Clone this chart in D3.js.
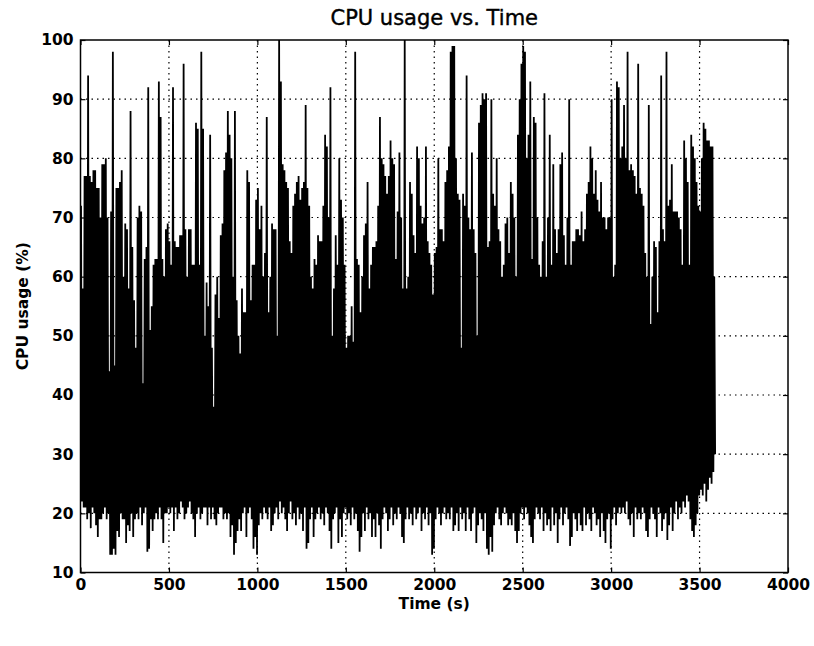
<!DOCTYPE html>
<html lang="en">
<head>
<meta charset="utf-8">
<script src="https://d3js.org/d3.v7.min.js"></script>
<style>
  body { margin: 0; background: #fff; }
  text { font-family: "DejaVu Sans", sans-serif; fill: #000; }
</style>
</head>
<body>
<script>
var width = 814, height = 646;
var margin = {top: 40, right: 26, bottom: 73.5, left: 80.5};
var plotW = width - margin.left - margin.right;
var plotH = height - margin.top - margin.bottom;

var title = "CPU usage vs. Time";
var xLabel = "Time (s)";
var yLabel = "CPU usage (%)";
var xTicks = [0, 500, 1000, 1500, 2000, 2500, 3000, 3500, 4000];
var yTicks = [10, 20, 30, 40, 50, 60, 70, 80, 90, 100];

// one sample pair per 10 s: highest and lowest CPU %
var binSeconds = 10;
var cpuHigh = [
  72,58,77,77,94,77,76,78,78,75, 75,70,79,79,80,70,44,71,98,45,
  75,75,76,78,60,69,68,58,88,65, 56,48,70,72,71,42,63,65,92,51,
  55,62,63,63,93,87,63,60,68,69, 66,62,92,66,65,65,67,67,96,68,
  60,68,68,62,62,86,85,62,98,85, 50,59,55,84,48,38,57,60,53,67,
  69,78,81,88,84,80,60,88,56,50, 47,58,54,54,78,76,56,62,62,73,
  75,68,72,60,64,87,54,60,69,68, 68,50,100,93,79,78,76,75,66,64,
  72,74,76,77,73,75,76,89,75,72, 60,58,63,62,67,66,66,72,84,82,
  70,92,50,58,67,62,80,73,70,62, 48,50,50,55,49,98,63,62,54,60,
  67,69,76,58,62,65,65,66,72,87, 80,79,77,74,77,83,80,79,63,71,
  81,
  70,58,100,58,60,76,74,67,64,82, 80,72,69,70,82,66,64,62,57,64,
  65,80,68,68,66,76,78,82,98,99, 99,80,74,73,48,74,72,94,70,68,
  81,68,64,50,86,89,91,90,91,65, 66,90,74,72,80,68,66,60,62,69,
  70,
  64,76,74,70,60,84,90,96,99,98, 80,84,93,63,87,86,70,62,60,66,
  91,60,70,84,62,79,68,64,68,79, 81,67,62,70,90,62,66,66,68,68,
  67,71,66,68,74,76,82,80,74,78, 73,71,76,70,70,68,70,70,90,60,
  62,93,92,80,82,89,80,98,78,79, 78,77,74,96,75,74,72,64,60,89,
  52,60,66,65,54,66,94,68,66,98, 72,73,79,71,71,71,70,68,62,83,
  80,76,62,84,82,80,76,72,71,80, 86,85,83,83,82,82,60
];
var cpuLow = [
  22,21,21,19,20,17.5,21,20,18,16, 19,19,20,21,19,20,13,13,14,13,
  17,16,20,19,19,15,18,17,20,16, 19,20,19,21,18,20,21,13.5,14,19,
  17,19,20,19,21,19,15,20,20,21, 20,21,17,21,19,20,22,21,19,20,
  21,22,20,19,16,20,21,19,20,21, 21,18,21,19,21,19,18,20,21,21,
  19,20,19,20,16,18,13,15,17,19, 17,20,21,16,20,21,19,14,16,13,
  18,20,19,21,20,19,21,17,18,20, 21,19,22,20,21,19,17,20,22,19,
  20,18,21,19,20,17,21,14,15,19, 21,16,19,20,21,19,20,18,21,20,
  17,14,19,20,21,15,19,16,20,21, 19,20,18,21,19,20,17,13.5,16,20,
  17,21,19,20,16,19,16,20,18,14, 19,21,20,17,19,21,18,20,19,21,
  20,
  16,15,19,21,19,20,18,21,19,20, 21,17,20,19,21,18,20,13,14,19,
  21,20,18,20,21,19,20,19,21,17, 18,20,17,21,19,20,17,21,19,17,
  20,21,15,18,20,19,17,20,14,13, 16,13.5,18,20,21,19,18,20,21,20,
  18,
  19,18,20,17,15,17,20,21,19,21, 20,18,16,15,19,21,20,19,21,17,
  20,18,19,17,21,18,20,15,19,21, 18,20,21,19,14.5,16,20,19,17,20,
  18,17,21,18,20,19,17,21,20,18, 19,16,20,17,15,19,20,14,19,21,
  18,20,21,20,21,20,22,19,18,20, 16,21,19,20,19,21,20,17,16,19,
  21,20,19,16,21,20,17,19,20,15.5, 18,21,17,20,22,19,21,20,22,21,
  23,22,19,17,16,18,20,23,24,23, 25,22,24,26,25,27,30
];

// the line: high then low inside every bin
var points = [];
cpuHigh.forEach(function(h, i) {
  points.push([i * binSeconds + 3, h]);
  points.push([i * binSeconds + 8, cpuLow[i]]);
});

var x = d3.scaleLinear().domain([0, 4000]).range([0, plotW]);
var y = d3.scaleLinear().domain([10, 100]).range([plotH, 0]);

var svg = d3.select("body").append("svg")
  .attr("width", width)
  .attr("height", height);

var g = svg.append("g")
  .attr("transform", "translate(" + margin.left + "," + margin.top + ")");

g.append("clipPath").attr("id", "clip")
  .append("rect").attr("width", plotW).attr("height", plotH);

g.append("path")
  .datum(points)
  .attr("clip-path", "url(#clip)")
  .attr("fill", "none")
  .attr("stroke", "#000")
  .attr("stroke-width", 1.8)
  .attr("stroke-linejoin", "bevel")
  .attr("d", d3.line().x(function(d) { return x(d[0]); }).y(function(d) { return y(d[1]); }));

// dotted grid (drawn above the line like matplotlib classic)
g.selectAll(".gx").data(xTicks.slice(1, -1)).enter().append("line")
  .attr("x1", x).attr("x2", x).attr("y1", 0).attr("y2", plotH)
  .attr("stroke", "#000").attr("stroke-width", 1.2).attr("stroke-dasharray", "1.5,4");
g.selectAll(".gy").data(yTicks.slice(1, -1)).enter().append("line")
  .attr("y1", y).attr("y2", y).attr("x1", 0).attr("x2", plotW)
  .attr("stroke", "#000").attr("stroke-width", 1.2).attr("stroke-dasharray", "1.5,4");

// axes with inward ticks on all sides
function styleAxis(sel) {
  sel.select(".domain").remove();
  sel.selectAll("line").attr("stroke-width", 1.2);
  sel.selectAll("text")
    .style("font-family", "'DejaVu Sans', sans-serif")
    .style("font-size", "15.5px")
    .style("font-weight", "bold");
}
g.append("g").attr("transform", "translate(0," + plotH + ")")
  .call(d3.axisBottom(x).tickValues(xTicks).tickSize(-5).tickPadding(6).tickFormat(d3.format("d")))
  .call(styleAxis);
g.append("g")
  .call(d3.axisLeft(y).tickValues(yTicks).tickSize(-5).tickPadding(7).tickFormat(d3.format("d")))
  .call(styleAxis);
g.append("g")
  .call(d3.axisTop(x).tickValues(xTicks).tickSize(-5).tickFormat(""))
  .call(styleAxis);
g.append("g").attr("transform", "translate(" + plotW + ",0)")
  .call(d3.axisRight(y).tickValues(yTicks).tickSize(-5).tickFormat(""))
  .call(styleAxis);

g.append("rect")
  .attr("width", plotW).attr("height", plotH)
  .attr("fill", "none").attr("stroke", "#000").attr("stroke-width", 1.5);

// titles
svg.append("text")
  .attr("x", margin.left + plotW / 2).attr("y", 25)
  .attr("text-anchor", "middle")
  .style("font-size", "21px")
  .style("stroke", "#000").style("stroke-width", 0.4)
  .text(title);
svg.append("text")
  .attr("x", margin.left + plotW / 2).attr("y", 609)
  .attr("text-anchor", "middle")
  .style("font-size", "15.5px").style("font-weight", "bold")
  .text(xLabel);
svg.append("text")
  .attr("transform", "translate(28," + (margin.top + plotH / 2) + ") rotate(-90)")
  .attr("text-anchor", "middle")
  .style("font-size", "15.5px").style("font-weight", "bold")
  .text(yLabel);
</script>
</body>
</html>
